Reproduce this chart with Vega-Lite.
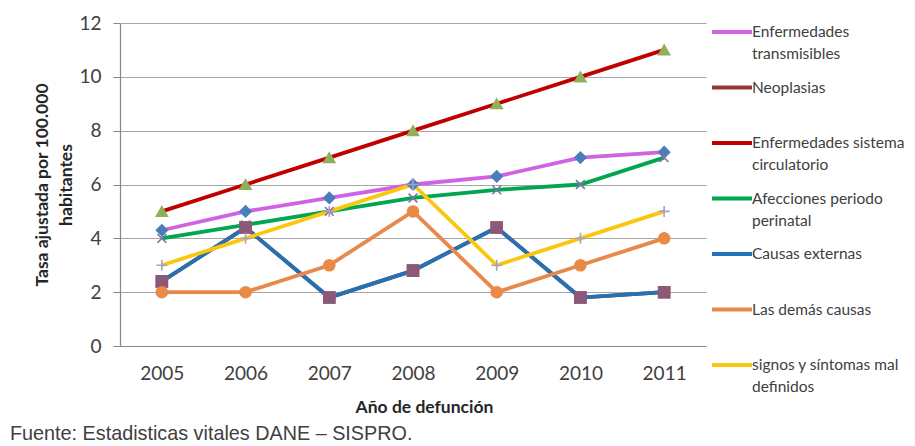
{
  "$schema": "https://vega.github.io/schema/vega-lite/v6.json",
  "width": 586,
  "height": 323,
  "autosize": "none",
  "padding": {"left": 120, "top": 23, "right": 209, "bottom": 100},
  "background": "white",
  "title": {
    "text": "Fuente: Estadisticas vitales DANE – SISPRO.",
    "orient": "bottom",
    "anchor": "start",
    "frame": "group",
    "font": "Liberation Sans",
    "fontSize": 19.8,
    "fontWeight": "normal",
    "color": "#404040",
    "dx": -110,
    "offset": 8
  },
  "data": {
    "values": [
      {"serie": "Enfermedades transmisibles", "year": "2005", "value": 4.3},
      {"serie": "Enfermedades transmisibles", "year": "2006", "value": 5.0},
      {"serie": "Enfermedades transmisibles", "year": "2007", "value": 5.5},
      {"serie": "Enfermedades transmisibles", "year": "2008", "value": 6.0},
      {"serie": "Enfermedades transmisibles", "year": "2009", "value": 6.3},
      {"serie": "Enfermedades transmisibles", "year": "2010", "value": 7.0},
      {"serie": "Enfermedades transmisibles", "year": "2011", "value": 7.2},
      {"serie": "Neoplasias", "year": "2005", "value": 2.4},
      {"serie": "Neoplasias", "year": "2006", "value": 4.4},
      {"serie": "Neoplasias", "year": "2007", "value": 1.8},
      {"serie": "Neoplasias", "year": "2008", "value": 2.8},
      {"serie": "Neoplasias", "year": "2009", "value": 4.4},
      {"serie": "Neoplasias", "year": "2010", "value": 1.8},
      {"serie": "Neoplasias", "year": "2011", "value": 2.0},
      {"serie": "Enfermedades sistema circulatorio", "year": "2005", "value": 5.0},
      {"serie": "Enfermedades sistema circulatorio", "year": "2006", "value": 6.0},
      {"serie": "Enfermedades sistema circulatorio", "year": "2007", "value": 7.0},
      {"serie": "Enfermedades sistema circulatorio", "year": "2008", "value": 8.0},
      {"serie": "Enfermedades sistema circulatorio", "year": "2009", "value": 9.0},
      {"serie": "Enfermedades sistema circulatorio", "year": "2010", "value": 10.0},
      {"serie": "Enfermedades sistema circulatorio", "year": "2011", "value": 11.0},
      {"serie": "Afecciones periodo perinatal", "year": "2005", "value": 4.0},
      {"serie": "Afecciones periodo perinatal", "year": "2006", "value": 4.5},
      {"serie": "Afecciones periodo perinatal", "year": "2007", "value": 5.0},
      {"serie": "Afecciones periodo perinatal", "year": "2008", "value": 5.5},
      {"serie": "Afecciones periodo perinatal", "year": "2009", "value": 5.8},
      {"serie": "Afecciones periodo perinatal", "year": "2010", "value": 6.0},
      {"serie": "Afecciones periodo perinatal", "year": "2011", "value": 7.0},
      {"serie": "Causas externas", "year": "2005", "value": 2.4},
      {"serie": "Causas externas", "year": "2006", "value": 4.4},
      {"serie": "Causas externas", "year": "2007", "value": 1.8},
      {"serie": "Causas externas", "year": "2008", "value": 2.8},
      {"serie": "Causas externas", "year": "2009", "value": 4.4},
      {"serie": "Causas externas", "year": "2010", "value": 1.8},
      {"serie": "Causas externas", "year": "2011", "value": 2.0},
      {"serie": "Las demás causas", "year": "2005", "value": 2.0},
      {"serie": "Las demás causas", "year": "2006", "value": 2.0},
      {"serie": "Las demás causas", "year": "2007", "value": 3.0},
      {"serie": "Las demás causas", "year": "2008", "value": 5.0},
      {"serie": "Las demás causas", "year": "2009", "value": 2.0},
      {"serie": "Las demás causas", "year": "2010", "value": 3.0},
      {"serie": "Las demás causas", "year": "2011", "value": 4.0},
      {"serie": "signos y síntomas mal definidos", "year": "2005", "value": 3.0},
      {"serie": "signos y síntomas mal definidos", "year": "2006", "value": 4.0},
      {"serie": "signos y síntomas mal definidos", "year": "2007", "value": 5.0},
      {"serie": "signos y síntomas mal definidos", "year": "2008", "value": 6.0},
      {"serie": "signos y síntomas mal definidos", "year": "2009", "value": 3.0},
      {"serie": "signos y síntomas mal definidos", "year": "2010", "value": 4.0},
      {"serie": "signos y síntomas mal definidos", "year": "2011", "value": 5.0}
    ]
  },
  "encoding": {
    "x": {
      "field": "year",
      "type": "ordinal",
      "scale": {"type": "point", "padding": 0.5},
      "axis": {
        "title": "Año de defunción",
        "titleFont": "Lato",
        "titleFontSize": 17.5,
        "titleFontWeight": "bold",
        "titleColor": "#262626",
        "titleX": 304,
        "titleY": 61,
        "titleBaseline": "middle",
        "labelAngle": 0,
        "labelFont": "Lato",
        "labelFontSize": 19,
        "labelColor": "#404040",
        "labelPadding": 18,
        "ticks": false,
        "grid": false,
        "domain": true,
        "domainColor": "#868686",
        "domainWidth": 1.2
      }
    },
    "y": {
      "field": "value",
      "type": "quantitative",
      "scale": {"domain": [0, 12], "nice": false},
      "axis": {
        "title": ["Tasa ajustada por 100.000", "habitantes"],
        "titleFont": "Lato",
        "titleFontSize": 17.5,
        "titleFontWeight": "bold",
        "titleColor": "#262626",
        "titleLineHeight": 24,
        "titleX": -78,
        "titleY": 161.5,
        "titleAngle": -90,
        "titleAlign": "center",
        "titleBaseline": "middle",
        "values": [0, 2, 4, 6, 8, 10, 12],
        "labelFont": "Lato",
        "labelFontSize": 19,
        "labelColor": "#404040",
        "labelPadding": 12,
        "ticks": true,
        "tickSize": 7,
        "tickColor": "#868686",
        "domain": true,
        "domainColor": "#868686",
        "domainWidth": 1.2,
        "grid": true,
        "gridColor": "#A6A6A6",
        "gridWidth": 1.2
      }
    }
  },
  "layer": [
    {
      "mark": {"type": "line", "strokeWidth": 3.8},
      "encoding": {
        "color": {
          "field": "serie",
          "type": "nominal",
          "scale": {
            "domain": ["Enfermedades transmisibles", "Neoplasias", "Enfermedades sistema circulatorio", "Afecciones periodo perinatal", "Causas externas", "Las demás causas", "signos y síntomas mal definidos"],
            "range": ["#CF63E3", "#953735", "#C00000", "#00A650", "#2472B5", "#E7894B", "#F9C80E"]
          },
          "legend": {
            "orient": "none",
            "legendX": 590,
            "legendY": -13,
            "title": null,
            "padding": 0,
            "symbolType": "stroke",
            "symbolSize": 1600,
            "symbolStrokeWidth": 4,
            "rowPadding": 2.5,
            "labelOffset": -2,
            "labelFont": "Lato",
            "labelFontSize": 15.5,
            "labelColor": "#404040",
            "labelBaseline": "middle",
            "labelLimit": 0,
            "labelExpr": "datum.label == 'Enfermedades transmisibles' ? ['Enfermedades', 'transmisibles'] : datum.label == 'Enfermedades sistema circulatorio' ? ['Enfermedades sistema', 'circulatorio'] : datum.label == 'Afecciones periodo perinatal' ? ['Afecciones periodo', 'perinatal'] : datum.label == 'signos y síntomas mal definidos' ? ['signos y síntomas mal', 'definidos'] : [datum.label, '']"
          }
        }
      }
    },
    {
      "transform": [{"calculate": "datum.serie", "as": "marcador"}],
      "mark": {"type": "point", "filled": true, "size": 120, "opacity": 1, "strokeWidth": 1.6},
      "encoding": {
        "fill": {
          "field": "marcador",
          "type": "nominal",
          "scale": {
            "domain": ["Afecciones periodo perinatal", "Causas externas", "Enfermedades sistema circulatorio", "Enfermedades transmisibles", "Las demás causas", "Neoplasias", "signos y síntomas mal definidos"],
            "range": ["#7F72A8", "#8C5A78", "#8FB05A", "#4A7EBB", "#E98A47", "#8C5A78", "#A8A0C8"]
          },
          "legend": null
        },
        "stroke": {
          "field": "marcador",
          "type": "nominal",
          "scale": {
            "domain": ["Afecciones periodo perinatal", "Causas externas", "Enfermedades sistema circulatorio", "Enfermedades transmisibles", "Las demás causas", "Neoplasias", "signos y síntomas mal definidos"],
            "range": ["#7F72A8", "#8C5A78", "#8FB05A", "#4A7EBB", "#E98A47", "#8C5A78", "#A8A0C8"]
          },
          "legend": null
        },
        "shape": {
          "field": "marcador",
          "type": "nominal",
          "scale": {
            "domain": ["Afecciones periodo perinatal", "Causas externas", "Enfermedades sistema circulatorio", "Enfermedades transmisibles", "Las demás causas", "Neoplasias", "signos y síntomas mal definidos"],
            "range": ["M-0.8,-0.8L0.8,0.8M-0.8,0.8L0.8,-0.8", "square", "triangle-up", "diamond", "circle", "square", "M-1,0H1M0,-1V1"]
          },
          "legend": null
        }
      }
    }
  ],
  "config": {
    "view": {"stroke": null},
    "style": {"guide-label": {"lineHeight": 22}}
  }
}
